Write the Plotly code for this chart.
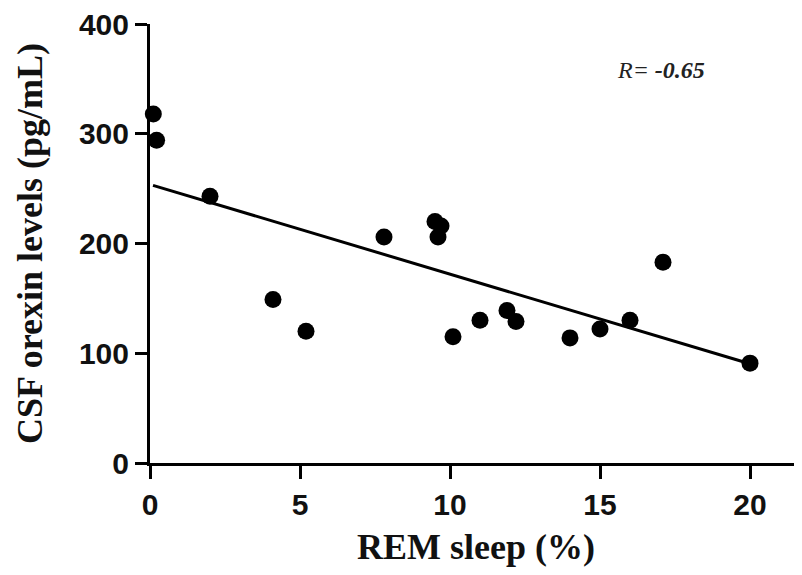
import plotly.graph_objects as go

# REM sleep (%) and CSF orexin (pg/mL)
rem_sleep = [0.11, 0.22, 2.0, 4.1, 5.2, 7.8, 9.5, 9.7, 9.6, 10.1, 11.0, 11.9, 12.2, 14.0, 15.0, 16.0, 17.1, 20.0]
orexin = [318, 294, 243, 149, 120, 206, 220, 216, 206, 115, 130, 139, 129, 114, 122, 130, 183, 91]

# regression line end points
fit_x = [0.1, 19.8]
fit_y = [253, 92]

x_ticks = [0, 5, 10, 15, 20]
y_ticks = [0, 100, 200, 300, 400]
x_title = "REM sleep (%)"
y_title = "CSF orexin levels (pg/mL)"
r_label = "R= "
r_value = "-0.65"

fig = go.Figure()
fig.add_trace(go.Scatter(x=fit_x, y=fit_y, mode="lines",
                         line=dict(color="black", width=3), cliponaxis=False,
                         showlegend=False, hoverinfo="skip"))
fig.add_trace(go.Scatter(x=rem_sleep, y=orexin, mode="markers",
                         marker=dict(color="black", size=17), cliponaxis=False,
                         showlegend=False))

tickfont = dict(family="Liberation Sans, Arial", size=30, color="#111", weight="bold")
titlefont = dict(family="Liberation Serif, Times New Roman", size=36, color="#111", weight="bold")

# page body has an 8px offset, compensated in width/height/margins
fig.update_layout(
    width=794, height=567,
    margin=dict(l=142, r=0, t=16, b=112),
    plot_bgcolor="white", paper_bgcolor="white",
    xaxis=dict(range=[0, 652 / 30], tickvals=x_ticks, ticktext=[str(v) for v in x_ticks],
               showline=True, linecolor="black", linewidth=3,
               ticks="outside", ticklen=13, tickwidth=3, tickcolor="black",
               showgrid=False, zeroline=False, tickfont=tickfont,
               ticklabeloverflow="allow"),
    yaxis=dict(range=[0, 400], tickvals=y_ticks, ticktext=[str(v) for v in y_ticks],
               showline=True, linecolor="black", linewidth=3,
               ticks="outside", ticklen=12, tickwidth=3, tickcolor="black",
               showgrid=False, zeroline=False, tickfont=tickfont,
               ticklabeloverflow="allow",
               title=dict(text=y_title, font=titlefont, standoff=26)),
    annotations=[
        dict(x=17.03, y=358, xref="x", yref="y",
             text="<i>" + r_label + "<b>" + r_value + "</b></i>",
             showarrow=False,
             font=dict(family="Liberation Serif, Times New Roman", size=24, color="#222")),
        dict(x=0.5, y=0, xref="paper", yref="paper", yanchor="middle", yshift=-84,
             text=x_title, showarrow=False, font=titlefont),
    ],
)

fig.write_html("out.html")
